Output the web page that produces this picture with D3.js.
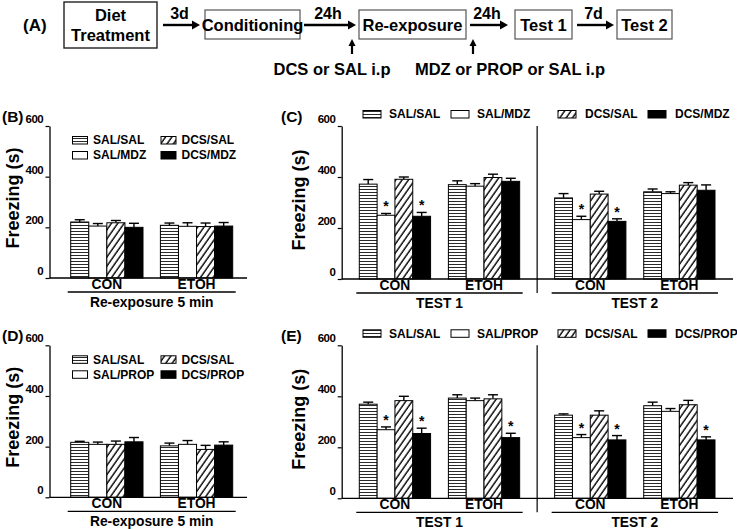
<!DOCTYPE html>
<html><head><meta charset="utf-8">
<script src="https://cdn.jsdelivr.net/npm/d3@7"></script>
<style>
body{margin:0;background:#fff}
svg{display:block}
text{font-family:"Liberation Sans",Arial,sans-serif;font-weight:bold;fill:#000}
</style>
</head><body>
<svg id="c" width="737" height="529"></svg>
<script>
// ---------------- DATA ----------------
const groups = ["CON", "ETOH"];
const mdzSeries = ["SAL/SAL", "SAL/MDZ", "DCS/SAL", "DCS/MDZ"];
const propSeries = ["SAL/SAL", "SAL/PROP", "DCS/SAL", "DCS/PROP"];
const yTicks = [0, 200, 400, 600];
const reexpLabel = ["Re-exposure 5 min"];
const testLabels = ["TEST 1", "TEST 2"];

// Panel B  [test][group][series]
const bMean = [[[221, 205, 218, 200], [208, 204, 203, 205]]];
const bErr  = [[[9, 10, 9, 16], [9, 14, 14, 14]]];
// Panel C
const cMean = [[[372, 250, 391, 246], [370, 364, 398, 383]],
               [[318, 233, 333, 226], [342, 335, 368, 348]]];
const cErr  = [[[18, 7, 9, 15], [15, 10, 13, 12]],
               [[17, 13, 11, 10], [11, 7, 10, 21]]];
const cStar = [[[0, 1, 0, 1], [0, 0, 0, 0]],
               [[0, 1, 0, 1], [0, 0, 0, 0]]];
// Panel D
const dMean = [[[217, 209, 209, 219], [203, 209, 189, 206]]];
const dErr  = [[[4, 9, 13, 17], [11, 15, 16, 13]]];
// Panel E
const eMean = [[[369, 269, 383, 254], [393, 383, 390, 238]],
               [[326, 238, 326, 229], [363, 341, 367, 229]]];
const eErr  = [[[8, 11, 17, 21], [13, 10, 16, 17]],
               [[5, 12, 17, 17], [14, 11, 17, 12]]];
const eStar = [[[0, 1, 0, 1], [0, 0, 0, 1]],
               [[0, 1, 0, 1], [0, 0, 0, 1]]];

// Timeline (A)
const steps = [["Diet", "Treatment"], ["Conditioning"], ["Re-exposure"], ["Test 1"], ["Test 2"]];
const intervals = ["3d", "24h", "24h", "7d"];
const injections = ["DCS or SAL i.p", "MDZ or PROP or SAL i.p"];

// ---------------- DRAW ----------------
const svg = d3.select("#c");
const defs = svg.append("defs");
const ph = defs.append("pattern").attr("id", "hz").attr("patternUnits", "userSpaceOnUse")
  .attr("width", 4).attr("height", 3);
ph.append("rect").attr("width", 4).attr("height", 3).attr("fill", "#fff");
ph.append("line").attr("x1", 0).attr("x2", 4).attr("y1", 0.5).attr("y2", 0.5)
  .attr("stroke", "#2a2a2a").attr("stroke-width", 1);
const pd = defs.append("pattern").attr("id", "dg").attr("patternUnits", "userSpaceOnUse")
  .attr("width", 5.2).attr("height", 10).attr("patternTransform", "rotate(35)");
pd.append("rect").attr("width", 5.2).attr("height", 10).attr("fill", "#fff");
pd.append("line").attr("x1", 1).attr("x2", 1).attr("y1", 0).attr("y2", 10)
  .attr("stroke", "#000").attr("stroke-width", 1.4);
const fills = ["url(#hz)", "#fff", "url(#dg)", "#000"];

function arrowH(g, x1, x2, y) {
  g.append("line").attr("x1", x1).attr("x2", x2 - 6).attr("y1", y).attr("y2", y)
    .attr("stroke", "#000").attr("stroke-width", 2.4);
  g.append("path").attr("d", `M${x2},${y} L${x2 - 8},${y - 4.5} L${x2 - 8},${y + 4.5} Z`).attr("fill", "#000");
}
function arrowUp(g, x, y1, y2) {
  g.append("line").attr("x1", x).attr("x2", x).attr("y1", y1).attr("y2", y2 + 5)
    .attr("stroke", "#000").attr("stroke-width", 2.2);
  g.append("path").attr("d", `M${x},${y2} L${x - 3.5},${y2 + 7} L${x + 3.5},${y2 + 7} Z`).attr("fill", "#000");
}

// Timeline
(function () {
  const g = svg.append("g");
  g.append("text").attr("x", 23).attr("y", 31).attr("font-size", 17).text("(A)");
  const boxes = [[64, 157, 2, 48], [205, 300, 10, 39], [359, 466, 10, 39], [515, 572, 10, 39], [617, 672, 10, 39]];
  steps.forEach((s, i) => {
    const b = boxes[i];
    g.append("rect").attr("x", b[0]).attr("y", b[2]).attr("width", b[1] - b[0]).attr("height", b[3] - b[2])
      .attr("fill", "#fff").attr("stroke", i === 0 ? "#222" : "#555").attr("stroke-width", i === 0 ? 1.4 : 1.2);
    const cx = (b[0] + b[1]) / 2, cy = (b[2] + b[3]) / 2;
    s.forEach((line, j) => {
      g.append("text").attr("x", cx).attr("y", cy + (j - (s.length - 1) / 2) * 20 + 6)
        .attr("text-anchor", "middle").attr("font-size", 16.5).text(line);
    });
  });
  const arr = [[163, 200], [304, 356], [470, 508], [577, 614]];
  intervals.forEach((t, i) => {
    arrowH(g, arr[i][0], arr[i][1], 25);
    g.append("text").attr("x", (arr[i][0] + arr[i][1]) / 2 - 2).attr("y", 19)
      .attr("text-anchor", "middle").attr("font-size", 16).text(t);
  });
  const ups = [352, 473], tx = [332, 510];
  injections.forEach((t, i) => {
    arrowUp(g, ups[i], 54, 39);
    g.append("text").attr("x", tx[i]).attr("y", 75).attr("text-anchor", "middle").attr("font-size", 16.5).text(t);
  });
})();

function drawPanel(o) {
  const g = svg.append("g");
  const y = d3.scaleLinear().domain([0, 600]).range([o.yBot, o.yTop]);
  const xt = d3.scaleBand().domain(o.tests).range([o.x0, o.x1]).paddingInner(o.tPad).paddingOuter(0);
  const xg = d3.scaleBand().domain(groups).range([0, xt.bandwidth()]).paddingInner(o.gPad).paddingOuter(0);
  const xs = d3.scaleBand().domain(o.series).range([0, xg.bandwidth()]).padding(0);
  const bw = xs.bandwidth();

  // panel letter
  g.append("text").attr("x", o.letterX).attr("y", o.yTop - 4).attr("font-size", 15.5).text(o.letter);

  // y axis
  const ya = g.append("g").attr("transform", `translate(${o.axisX},0)`)
    .call(d3.axisLeft(y).tickValues(yTicks).tickSize(4).tickSizeOuter(0).tickFormat(d3.format("d")));
  ya.select(".domain").attr("stroke", "#000").attr("stroke-width", 1.3);
  ya.selectAll(".tick line").attr("stroke", "#000").attr("stroke-width", 1.2);
  ya.selectAll(".tick text").attr("font-size", 11.5).attr("font-family", "Liberation Sans, Arial, sans-serif")
    .attr("font-weight", "bold").attr("fill", "#000").attr("dy", "-0.3em").attr("x", -6.5)
    .attr("letter-spacing", "-0.6");

  // y label
  g.append("text").attr("transform", `translate(${o.ylabX},${o.ylabY}) rotate(-90)`)
    .attr("text-anchor", "middle").attr("dy", "0.35em").attr("font-size", 18).text("Freezing (s)");

  // bars
  o.tests.forEach((t, ti) => {
    groups.forEach((gr, gi) => {
      o.series.forEach((s, si) => {
        const x = xt(t) + xg(gr) + xs(s);
        const m = o.mean[ti][gi][si], e = o.err[ti][gi][si];
        const top = y(m + e);
        g.append("line").attr("x1", x + bw / 2).attr("x2", x + bw / 2).attr("y1", y(m)).attr("y2", top)
          .attr("stroke", "#000").attr("stroke-width", 1.4);
        g.append("line").attr("x1", x + bw / 2 - 5).attr("x2", x + bw / 2 + 5).attr("y1", top).attr("y2", top)
          .attr("stroke", "#000").attr("stroke-width", 1.4);
        g.append("rect").attr("x", x).attr("y", y(m)).attr("width", bw).attr("height", y(0) - y(m))
          .attr("fill", fills[si]).attr("stroke", "#000").attr("stroke-width", 1);
        if (o.star && o.star[ti][gi][si]) {
          g.append("text").attr("x", x + bw / 2).attr("y", top - 2).attr("text-anchor", "middle")
            .attr("font-size", 14).attr("font-weight", "normal").text("*");
        }
      });
      g.append("text").attr("x", xt(t) + xg(gr) + xg.bandwidth() / 2).attr("y", o.yBot + 11)
        .attr("text-anchor", "middle").attr("font-size", 13.8).text(gr);
    });
    // underline + test label
    g.append("line").attr("x1", xt(t) - 3).attr("x2", xt(t) + xt.bandwidth() + 3)
      .attr("y1", o.yBot + 14).attr("y2", o.yBot + 14).attr("stroke", "#000").attr("stroke-width", 1.3);
    g.append("text").attr("x", xt(t) + xt.bandwidth() / 2).attr("y", o.yBot + 28.5)
      .attr("text-anchor", "middle").attr("font-size", 13.8).text(t);
  });
  // divider
  if (o.tests.length > 1) {
    const dx = (xt(o.tests[0]) + xt.bandwidth() + xt(o.tests[1])) / 2;
    g.append("line").attr("x1", dx).attr("x2", dx).attr("y1", o.yTop).attr("y2", o.yBot + 14)
      .attr("stroke", "#000").attr("stroke-width", 1.2);
  }
  // x baseline
  g.append("line").attr("x1", o.axisX).attr("x2", o.xEnd).attr("y1", o.yBot).attr("y2", o.yBot)
    .attr("stroke", "#000").attr("stroke-width", 1.3);

  // legend
  o.legend.forEach(l => {
    const si = o.series.indexOf(l.s);
    g.append("rect").attr("x", l.x).attr("y", l.y - 3.5).attr("width", l.w).attr("height", 7.5)
      .attr("fill", fills[si]).attr("stroke", "#000").attr("stroke-width", 1);
    g.append("text").attr("x", l.tx).attr("y", l.y + 4.4).attr("font-size", 12).text(l.s);
  });
}

const lowOff = 219.3;
function smallLegend(series, yy) {
  return [
    {s: series[0], x: 72.5, w: 15, tx: 93, y: yy},
    {s: series[2], x: 161, w: 15, tx: 181.5, y: yy},
    {s: series[1], x: 72.5, w: 15, tx: 93, y: yy + 15},
    {s: series[3], x: 161, w: 15, tx: 181.5, y: yy + 15}
  ];
}
function wideLegend(series, yy) {
  const sx = [363, 451, 558, 648], tx = [389, 477, 585, 675];
  return series.map((s, i) => ({s: s, x: sx[i], w: 18, tx: tx[i], y: yy}));
}

drawPanel({letter: "(B)", letterX: 2, yTop: 126, yBot: 278, axisX: 49.5, xEnd: 247,
  x0: 70.7, x1: 232.7, tPad: 0, gPad: 0.194, tests: reexpLabel, series: mdzSeries,
  mean: bMean, err: bErr, ylabX: 12.5, ylabY: 198, legend: smallLegend(mdzSeries, 140)});
drawPanel({letter: "(C)", letterX: 281, yTop: 126, yBot: 279, axisX: 341.7, xEnd: 733,
  x0: 359.3, x1: 715, tPad: 0.179, gPad: 0.2, tests: testLabels, series: mdzSeries,
  mean: cMean, err: cErr, star: cStar, ylabX: 299, ylabY: 200, legend: wideLegend(mdzSeries, 114)});
drawPanel({letter: "(D)", letterX: 2, yTop: 126 + lowOff, yBot: 278 + lowOff, axisX: 49.5, xEnd: 247,
  x0: 70.7, x1: 232.7, tPad: 0, gPad: 0.194, tests: reexpLabel, series: propSeries,
  mean: dMean, err: dErr, ylabX: 12.5, ylabY: 198 + lowOff, legend: smallLegend(propSeries, 140 + lowOff)});
drawPanel({letter: "(E)", letterX: 281, yTop: 126 + lowOff, yBot: 279 + lowOff, axisX: 341.7, xEnd: 733,
  x0: 359.3, x1: 715, tPad: 0.179, gPad: 0.2, tests: testLabels, series: propSeries,
  mean: eMean, err: eErr, star: eStar, ylabX: 299, ylabY: 200 + lowOff, legend: wideLegend(propSeries, 114 + lowOff)});
</script>
</body></html>
